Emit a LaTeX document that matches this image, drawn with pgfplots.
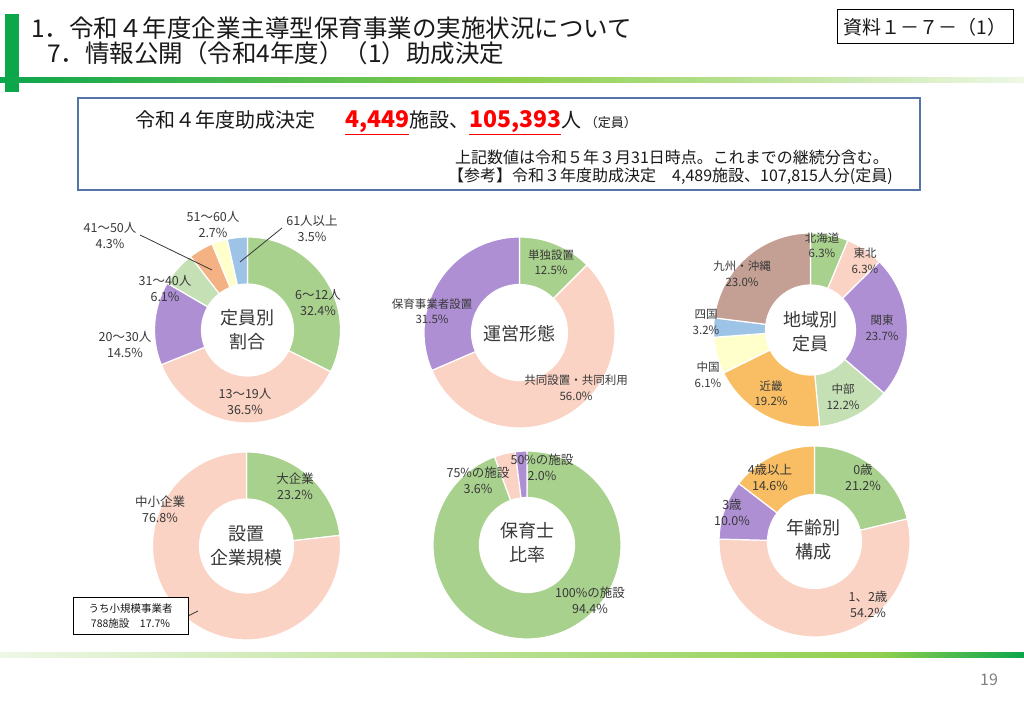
\documentclass[border=0pt]{standalone}
\usepackage{pgfplots}
\pgfplotsset{compat=1.18}
\usepackage{fontspec}
\setmainfont{Noto Sans CJK JP}

\definecolor{cg}{HTML}{A9D18E}
\definecolor{cp}{HTML}{FAD3C4}
\definecolor{cu}{HTML}{AE8FD4}
\definecolor{cl}{HTML}{C5E0B4}
\definecolor{co}{HTML}{F4B183}
\definecolor{cy}{HTML}{FFFFCC}
\definecolor{cb}{HTML}{9DC3E6}
\definecolor{cq}{HTML}{F9BE63}
\definecolor{cr}{HTML}{C4A094}
\definecolor{tx}{HTML}{383838}
\definecolor{gA}{HTML}{0CA64B}
\definecolor{gB}{HTML}{8FCF4F}
\definecolor{gC}{HTML}{EEF7E6}
\definecolor{boxc}{HTML}{5575A8}

\tikzset{
  lab/.style={align=center,text=tx,inner sep=0pt,font=\fontsize{12.5}{16}\selectfont},
  labs/.style={align=center,text=tx,inner sep=0pt,font=\fontsize{11.5}{15.5}\selectfont},
  ctr/.style={align=center,text=tx,inner sep=0pt,font=\fontsize{18}{24}\selectfont},
}

% donut: centre x, centre y (pixels from top), outer and inner radius
\newcommand\donut[4]{\def\dcx{#1}\pgfmathsetmacro\dcy{708-#2}\def\dro{#3}\def\dri{#4}\def\dcum{0}}
% one slice: value in percent, colour
\newcommand\seg[2]{%
  \pgfmathsetmacro\sa{90-3.6*\dcum}%
  \pgfmathsetmacro\ea{90-3.6*(\dcum+#1)}%
  \pgfmathsetmacro\dw{\dro-\dri}%
  \pgfmathsetmacro\eb{\ea+180}%
  \edef\tmp{\noexpand\fill[#2,draw=white,line width=1.2pt] (axis cs:\dcx,\dcy) ++(\sa:\dro pt)
    arc[start angle=\sa,end angle=\ea,radius=\dro pt] -- ++(\eb:\dw pt)
    arc[start angle=\ea,end angle=\sa,radius=\dri pt] -- cycle;}%
  \tmp
  \pgfmathsetmacro\dcum{\dcum+#1}}
\newcommand\lab[4][lab]{\node[#1] at (axis cs:#2,{708-#3}) {#4};}
\newcommand\lead[4]{\draw[tx,line width=0.8pt] (axis cs:#1,{708-#2}) -- (axis cs:#3,{708-#4});}

\begin{document}
\begin{tikzpicture}
\begin{axis}[
    x=1pt, y=1pt,
    xmin=0, xmax=1024, ymin=0, ymax=708,
    scale only axis,
    hide axis,
    clip=false
]
\fill[white] (axis cs:0,0) rectangle (axis cs:1024,708);

% header
\fill[gA] (axis cs:5,{708-14}) rectangle (axis cs:19,{708-92});
\shade[left color=gA,right color=gB] (axis cs:0,{708-77.5}) rectangle (axis cs:520,{708-82.5});
\shade[left color=gB,right color=gC] (axis cs:520,{708-77.5}) rectangle (axis cs:1024,{708-82.5});
\node[anchor=west,inner sep=0pt,text=black!90,font=\fontsize{24.5}{25}\selectfont]
  at (axis cs:31,{708-28}) {1．令和４年度企業主導型保育事業の実施状況について};
\node[anchor=west,inner sep=0pt,text=black!90,font=\fontsize{24.5}{25}\selectfont]
  at (axis cs:47,{708-53}) {7．情報公開（令和4年度）（1）助成決定};
\draw[black,line width=1pt,fill=white] (axis cs:837,{708-10}) rectangle (axis cs:1013,{708-44});
\node[inner sep=0pt,text=black!90,font=\fontsize{19}{20}\selectfont]
  at (axis cs:925,{708-27}) {資料１－７－（1）};

% summary box
\draw[boxc,line width=1.2pt,fill=white] (axis cs:78,{708-98}) rectangle (axis cs:920,{708-190});
\node[anchor=west,inner sep=0pt,text=black!90,font=\fontsize{20}{22}\selectfont]
  at (axis cs:135,{708-123}) {令和４年度助成決定\hspace{30pt}{\color{red}\fontsize{23}{24}\selectfont\bfseries\underline{4,449}}施設、{\color{red}\fontsize{23}{24}\selectfont\bfseries\underline{105,393}}人\,{\fontsize{13}{14}\selectfont（定員）}};
\node[anchor=west,inner sep=0pt,text=black!90,font=\fontsize{16}{18}\selectfont]
  at (axis cs:455,{708-157}) {上記数値は令和５年３月31日時点。これまでの継続分含む。};
\node[anchor=west,inner sep=0pt,text=black!90,font=\fontsize{16}{18}\selectfont]
  at (axis cs:448,{708-176}) {【参考】令和３年度助成決定　4,489施設、107,815人分(定員)};

% donut 1: 定員別割合
\donut{247.5}{330}{93}{46}
\seg{32.4}{cg}\seg{36.5}{cp}\seg{14.5}{cu}\seg{6.1}{cl}\seg{4.3}{co}\seg{2.7}{cy}\seg{3.5}{cb}
\lab{318}{303}{6～12人\\32.4\%}
\lab{245}{402}{13～19人\\36.5\%}
\lab{125}{345}{20～30人\\14.5\%}
\lab{165}{289}{31～40人\\6.1\%}
\lab{110}{236}{41～50人\\4.3\%}
\lab{213}{225}{51～60人\\2.7\%}
\lab{312}{228}{61人以上\\3.5\%}
\lead{240}{262}{282}{228}
\lead{140}{235}{212}{270}
\lab[ctr]{247.5}{330}{定員別\\割合}

% donut 2: 運営形態
\donut{519.5}{332.5}{95.5}{48}
\seg{12.5}{cg}\seg{56.0}{cp}\seg{31.5}{cu}
\lab[labs]{551}{262}{単独設置\\12.5\%}
\lab[labs]{576}{388}{共同設置・共同利用\\56.0\%}
\lab[labs]{432}{311}{保育事業者設置\\31.5\%}
\lab[ctr]{519.5}{334}{運営形態}

% donut 3: 地域別定員
\donut{810.5}{330}{97}{45}
\seg{6.3}{cg}\seg{6.3}{cp}\seg{23.7}{cu}\seg{12.2}{cl}\seg{19.2}{cq}\seg{6.1}{cy}\seg{3.2}{cb}\seg{23.0}{cr}
\lab[labs]{822}{245}{北海道\\6.3\%}
\lab[labs]{865}{261}{東北\\6.3\%}
\lab[labs]{882}{328}{関東\\23.7\%}
\lab[labs]{843}{397}{中部\\12.2\%}
\lab[labs]{771}{393}{近畿\\19.2\%}
\lab[labs]{708}{375}{中国\\6.1\%}
\lab[labs]{706}{322}{四国\\3.2\%}
\lab[labs]{742}{274}{九州・沖縄\\23.0\%}
\lab[ctr]{810.5}{332}{地域別\\定員}

% donut 4: 設置企業規模
\donut{246.5}{546}{94}{47}
\seg{23.2}{cg}\seg{76.8}{cp}
\lab{295}{486}{大企業\\23.2\%}
\lab{160}{509}{中小企業\\76.8\%}
\lab[ctr]{246.5}{546}{設置\\企業規模}
\lead{188}{616}{198}{611}
\draw[black,line width=0.8pt,fill=white] (axis cs:73,{708-597}) rectangle (axis cs:188,{708-634});
\node[align=center,inner sep=0pt,text=black!90,font=\fontsize{10.5}{15}\selectfont]
  at (axis cs:130.5,{708-616}) {うち小規模事業者\\788施設　17.7\%};

% donut 5: 保育士比率
\donut{527}{545}{94}{47.5}
\seg{94.4}{cg}\seg{3.6}{cp}\seg{2.0}{cu}
\lab{590}{600}{100\%の施設\\94.4\%}
\lab{478}{480}{75\%の施設\\3.6\%}
\lab{542}{467}{50\%の施設\\2.0\%}
\lab[ctr]{527}{543}{保育士\\比率}

% donut 6: 年齢別構成
\donut{814.5}{541.5}{95.5}{47}
\seg{21.2}{cg}\seg{54.2}{cp}\seg{10.0}{cu}\seg{14.6}{cq}
\lab{863}{477}{0歳\\21.2\%}
\lab{868}{604}{1、2歳\\54.2\%}
\lab{732}{512}{3歳\\10.0\%}
\lab{770}{477}{4歳以上\\14.6\%}
\lab[ctr]{813}{540}{年齢別\\構成}

% footer
\shade[left color=gC,right color=gB] (axis cs:0,{708-653}) rectangle (axis cs:880,{708-658});
\shade[left color=gB,right color=gA] (axis cs:880,{708-653}) rectangle (axis cs:1024,{708-658});
\node[inner sep=0pt,text=black!50,font=\fontsize{16}{18}\selectfont] at (axis cs:989,{708-680}) {19};
\end{axis}
\end{tikzpicture}
\end{document}
